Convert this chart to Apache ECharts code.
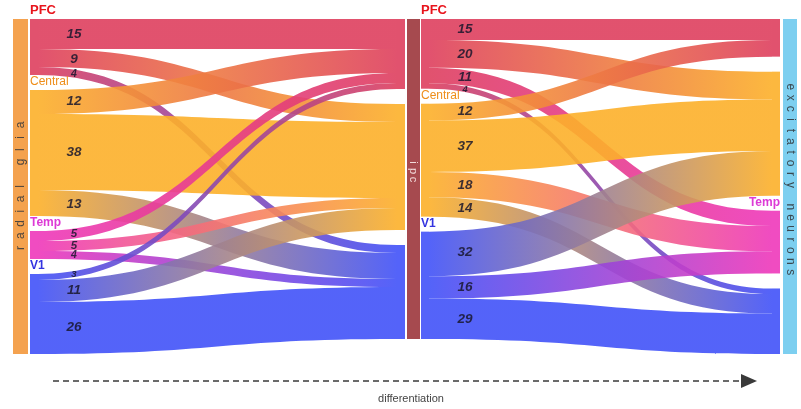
<!DOCTYPE html>
<html><head><meta charset="utf-8">
<script src="https://cdn.jsdelivr.net/npm/echarts@6/dist/echarts.min.js"></script>
<style>html,body{margin:0;padding:0;background:#fff}#c{width:801px;height:409px}</style>
</head><body><div id="c"></div>
<script>
// ---- data ----
const gliaRegions = ['PFC', 'Central', 'Temp', 'V1'];
const ipcRegions = ['PFC', 'Central', 'V1'];
const excRegions = ['PFC', 'Central', 'Temp', 'V1'];
// rows = source region, columns = target region
const gliaToIpc = [[15, 9, 4], [12, 38, 13], [5, 5, 4], [3, 11, 26]];
const ipcToExc = [[15, 20, 11, 4], [12, 37, 18, 14], [0, 32, 16, 29]];
const stageNames = ['radial glia', 'ipc', 'excitatory neurons'];
const excLabelled = ['Temp'];
const axisTitle = 'differentiation';

// ---- styles ----
const FONT = '"Liberation Sans", Arial, sans-serif';
const regionColor = { PFC: '#DE3F5E', Central: '#FCB02A', Temp: '#EE38BA', V1: '#4152F8' };
const regionText = { PFC: '#E8141C', Central: '#EE8E1A', Temp: '#DD3AD6', V1: '#3434E0' };
const regionWeight = { PFC: 'bold', Central: 'normal', Temp: 'bold', V1: 'bold' };
const NW = 8;
const LINK_OPACITY = 0.9;

function nodeLabel(r, mode) {
  if (mode === 'none') return { show: false };
  return {
    show: true,
    position: mode === 'right' ? [NW, -2] : [0, -2],
    align: mode === 'right' ? 'right' : 'left',
    verticalAlign: 'bottom',
    formatter: r,
    color: regionText[r],
    fontWeight: regionWeight[r],
    fontSize: r === 'PFC' ? 13 : 12,
    fontFamily: FONT
  };
}
function makeNodes(prefix, regions, modeFn) {
  return regions.map(r => ({
    name: prefix + ':' + r,
    itemStyle: { color: regionColor[r], opacity: LINK_OPACITY },
    label: nodeLabel(r, modeFn(r))
  }));
}
function makeLinks(sp, sReg, tp, tReg, m) {
  const out = [];
  m.forEach((row, i) => row.forEach((v, j) => {
    if (v > 0) out.push({ source: sp + ':' + sReg[i], target: tp + ':' + tReg[j], value: v });
  }));
  return out;
}

const common = {
  type: 'sankey',
  nodeWidth: NW,
  nodeGap: 15,
  layoutIterations: 0,
  draggable: false,
  top: 19,
  height: 335,
  emphasis: { disabled: true },
  label: { show: false },
  itemStyle: { borderWidth: 0 },
  lineStyle: { color: 'gradient', opacity: LINK_OPACITY, curveness: 0.5 }
};

const option = {
  animation: false,
  backgroundColor: '#fff',
  series: [
    Object.assign({}, common, {
      left: 30, width: 375,
      data: makeNodes('g', gliaRegions, () => 'left').concat(makeNodes('i', ipcRegions, () => 'none')),
      links: makeLinks('g', gliaRegions, 'i', ipcRegions, gliaToIpc)
    }),
    Object.assign({}, common, {
      left: 421, width: 359,
      data: makeNodes('i', ipcRegions, () => 'left').concat(
        makeNodes('e', excRegions, r => excLabelled.indexOf(r) >= 0 ? 'right' : 'none')),
      links: makeLinks('i', ipcRegions, 'e', excRegions, ipcToExc)
    })
  ]
};

const chart = echarts.init(document.getElementById('c'), null, { renderer: 'canvas' });
chart.setOption(option);

function bez(a, b, c, d, t) { const u = 1 - t; return u*u*u*a + 3*u*u*t*b + 3*u*t*t*c + t*t*t*d; }

function overlays() {
  const g = [];
  const lefts = [30, 421], tops = [19, 19], widths = [375, 359];
  const spans = [];
  const model = chart.getModel();
  [0, 1].forEach(si => {
    const sm = model.getSeriesByIndex(si);
    const li = sm.layoutInfo || { x: lefts[si], y: tops[si], width: widths[si] };
    const ox = li.x, oy = li.y;
    const graph = sm.getGraph();
    const byX = {};
    graph.nodes.forEach(n => {
      const l = n.getLayout();
      const k = Math.round(l.x);
      if (!byX[k]) byX[k] = { x: l.x, min: Infinity, max: -Infinity };
      byX[k].min = Math.min(byX[k].min, l.y);
      byX[k].max = Math.max(byX[k].max, l.y + l.dy);
    });
    const cols = Object.keys(byX).map(k => byX[k]).sort((a, b) => a.x - b.x);
    spans.push(cols.map(c => ({ x: ox + c.x, y0: oy + c.min, y1: oy + c.max })));
    graph.edges.forEach(e => {
      const el = e.getLayout(), n1 = e.node1.getLayout(), n2 = e.node2.getLayout();
      const x1 = n1.x + n1.dx, y1 = n1.y + el.sy + el.dy / 2;
      const x2 = n2.x, y2 = n2.y + el.ty + el.dy / 2;
      const cx = (x1 + x2) / 2;
      const xt = x1 + 36;
      let lo = 0, hi = 1;
      for (let k = 0; k < 40; k++) {
        const mid = (lo + hi) / 2;
        if (bez(x1, cx, cx, x2, mid) < xt) lo = mid; else hi = mid;
      }
      const t = (lo + hi) / 2;
      const y = bez(y1, y1, y2, y2, t);
      const fs = Math.max(9, Math.min(13.5, el.dy * 0.5 + 6.5));
      g.push({
        type: 'text', x: ox + xt, y: oy + y, silent: true, z: 100,
        style: {
          text: String(e.getValue()), fill: 'rgba(25,22,45,0.85)',
          fontSize: fs, fontWeight: 'bold', fontStyle: 'italic', fontFamily: FONT,
          align: 'center', verticalAlign: 'middle'
        }
      });
    });
  });
  const gl = spans[0][0], ip = spans[0][1], ex = spans[1][1];
  const bars = [
    { x: gl.x - 17, w: 15, y0: gl.y0, y1: gl.y1, fill: '#F4A24F', text: stageNames[0], dir: 1, tc: '#4f463e', step: 12.3, fs: 12, shift: 0 },
    { x: ip.x + NW + 2, w: 13, y0: ip.y0, y1: ip.y1, fill: '#A64A4F', text: stageNames[1], dir: -1, tc: '#F2DADA', step: 8.5, fs: 11, shift: -8 },
    { x: ex.x + NW + 3, w: 14, y0: ex.y0, y1: ex.y1, fill: '#7DCFF0', text: stageNames[2], dir: -1, tc: '#3a4850', step: 10.9, fs: 12, shift: -7 }
  ];
  bars.forEach(b => {
    g.push({ type: 'rect', shape: { x: b.x, y: b.y0, width: b.w, height: b.y1 - b.y0 }, style: { fill: b.fill }, z: 50, silent: true });
    const chars = b.text.split('');
    const n = chars.length;
    const cy = (b.y0 + b.y1) / 2 + b.shift;
    chars.forEach((ch, i) => {
      if (ch === ' ') return;
      const y = b.dir === 1 ? cy + (n - 1) / 2 * b.step - i * b.step : cy - (n - 1) / 2 * b.step + i * b.step;
      g.push({
        type: 'text', x: b.x + b.w / 2, y: y, rotation: b.dir === 1 ? Math.PI / 2 : -Math.PI / 2,
        z: 60, silent: true,
        style: { text: ch, fill: b.tc, fontSize: b.fs, fontFamily: FONT, align: 'center', verticalAlign: 'middle' }
      });
    });
  });
  g.push({ type: 'line', shape: { x1: 53, y1: 381, x2: 741, y2: 381 }, style: { stroke: '#3a3a3a', lineWidth: 1.5, lineDash: [6, 4] }, silent: true });
  g.push({ type: 'polygon', shape: { points: [[741, 374], [757, 381], [741, 388]] }, style: { fill: '#3a3a3a' }, silent: true });
  g.push({ type: 'text', x: 411, y: 399, style: { text: axisTitle, fill: '#444', fontSize: 11, fontFamily: FONT, align: 'center', verticalAlign: 'middle' }, silent: true });
  chart.setOption({ graphic: { elements: g } });
}
overlays();
</script>
</body></html>
